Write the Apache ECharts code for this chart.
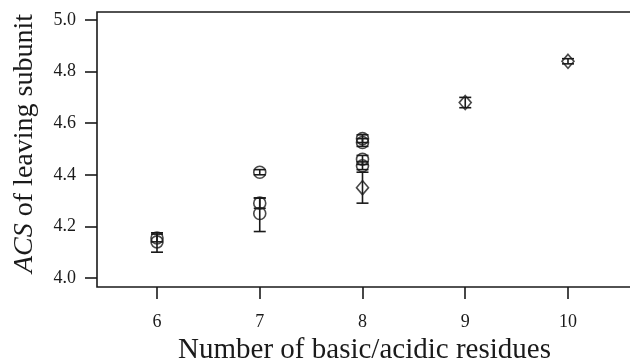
<!DOCTYPE html>
<html>
<head>
<meta charset="utf-8">
<script src="https://cdn.jsdelivr.net/npm/echarts@6/dist/echarts.min.js"></script>
<style>
  html, body { margin: 0; padding: 0; background: #fff; }
  #chart { width: 630px; height: 361px; }
</style>
</head>
<body>
<div id="chart"></div>
<script>
// circles
var circleX = [6, 6, 7, 7, 7, 8, 8, 8, 8];
var circleY = [4.155, 4.14, 4.41, 4.29, 4.25, 4.54, 4.525, 4.46, 4.435];
var circleLow = [4.14, 4.10, 4.40, 4.27, 4.18, 4.525, 4.51, 4.44, 4.42];
var circleHigh = [4.17, 4.175, 4.42, 4.31, 4.31, 4.555, 4.54, 4.475, 4.45];
// diamonds
var diamondX = [8, 9, 10];
var diamondY = [4.35, 4.68, 4.84];
var diamondLow = [4.29, 4.66, 4.83];
var diamondHigh = [4.41, 4.70, 4.85];

var xTicks = [6, 7, 8, 9, 10];
var yTicks = [4.0, 4.2, 4.4, 4.6, 4.8, 5.0];

var ink = '#1a1a1a';
var serif = 'Liberation Serif';

function pts(xs, ys) {
  return xs.map(function (x, i) { return [x, ys[i]]; });
}
function bars(xs, lo, hi) {
  return xs.map(function (x, i) { return [x, lo[i], hi[i]]; });
}

// error bar with caps
function errorBar(params, api) {
  var top = api.coord([api.value(0), api.value(2)]);
  var bot = api.coord([api.value(0), api.value(1)]);
  var w = 6;
  var st = { stroke: ink, lineWidth: 1.6 };
  return {
    type: 'group',
    children: [
      { type: 'line', shape: { x1: top[0], y1: top[1], x2: bot[0], y2: bot[1] }, style: st },
      { type: 'line', shape: { x1: top[0] - w, y1: top[1], x2: top[0] + w, y2: top[1] }, style: st },
      { type: 'line', shape: { x1: bot[0] - w, y1: bot[1], x2: bot[0] + w, y2: bot[1] }, style: st }
    ]
  };
}

var chart = echarts.init(document.getElementById('chart'));
var option = {
  backgroundColor: '#fff',
  animation: false,
  grid: {
    left: 97, right: -2, top: 12, bottom: 74,
    outerBoundsMode: 'none',
    containLabel: false,
    show: true, borderColor: ink, borderWidth: 1.6, backgroundColor: 'transparent'
  },
  xAxis: {
    type: 'value',
    min: 5.416,
    max: 10.623,
    name: 'Number of basic/acidic residues',
    nameLocation: 'middle',
    nameGap: 40,
    nameTextStyle: { fontFamily: serif, fontSize: 29, color: ink },
    axisLine: { show: false },
    splitLine: { show: false },
    axisTick: { show: true, inside: false, length: 12, customValues: xTicks, lineStyle: { color: ink, width: 1.6 } },
    axisLabel: { customValues: xTicks, margin: 26, fontFamily: serif, fontSize: 18, color: ink }
  },
  yAxis: {
    type: 'value',
    min: 3.965,
    max: 5.031,
    name: '{i|ACS} of leaving subunit',
    nameLocation: 'middle',
    nameGap: 58,
    nameTextStyle: {
      fontFamily: serif, fontSize: 28, color: ink,
      padding: [0, 0, 0, 12],
      rich: { i: { fontFamily: serif, fontSize: 28, fontStyle: 'italic', color: ink } }
    },
    axisLine: { show: false },
    splitLine: { show: false },
    axisTick: { show: true, inside: false, length: 12, customValues: yTicks, lineStyle: { color: ink, width: 1.6 } },
    axisLabel: {
      customValues: yTicks, margin: 21, fontFamily: serif, fontSize: 18, color: ink,
      formatter: function (v) { return v.toFixed(1); }
    }
  },
  series: [
    {
      type: 'custom',
      renderItem: errorBar,
      encode: { x: 0, y: [1, 2] },
      data: bars(circleX, circleLow, circleHigh),
      z: 2
    },
    {
      type: 'custom',
      renderItem: errorBar,
      encode: { x: 0, y: [1, 2] },
      data: bars(diamondX, diamondLow, diamondHigh),
      z: 2
    },
    {
      type: 'scatter',
      symbol: 'circle',
      symbolSize: 12,
      itemStyle: { color: 'rgba(255,255,255,0)', borderColor: ink, borderWidth: 1.6 },
      data: pts(circleX, circleY),
      z: 3
    },
    {
      type: 'scatter',
      symbol: 'diamond',
      symbolSize: [12, 14],
      itemStyle: { color: 'rgba(255,255,255,0)', borderColor: ink, borderWidth: 1.6 },
      data: pts(diamondX, diamondY),
      z: 3
    }
  ]
};
chart.setOption(option);
</script>
</body>
</html>
